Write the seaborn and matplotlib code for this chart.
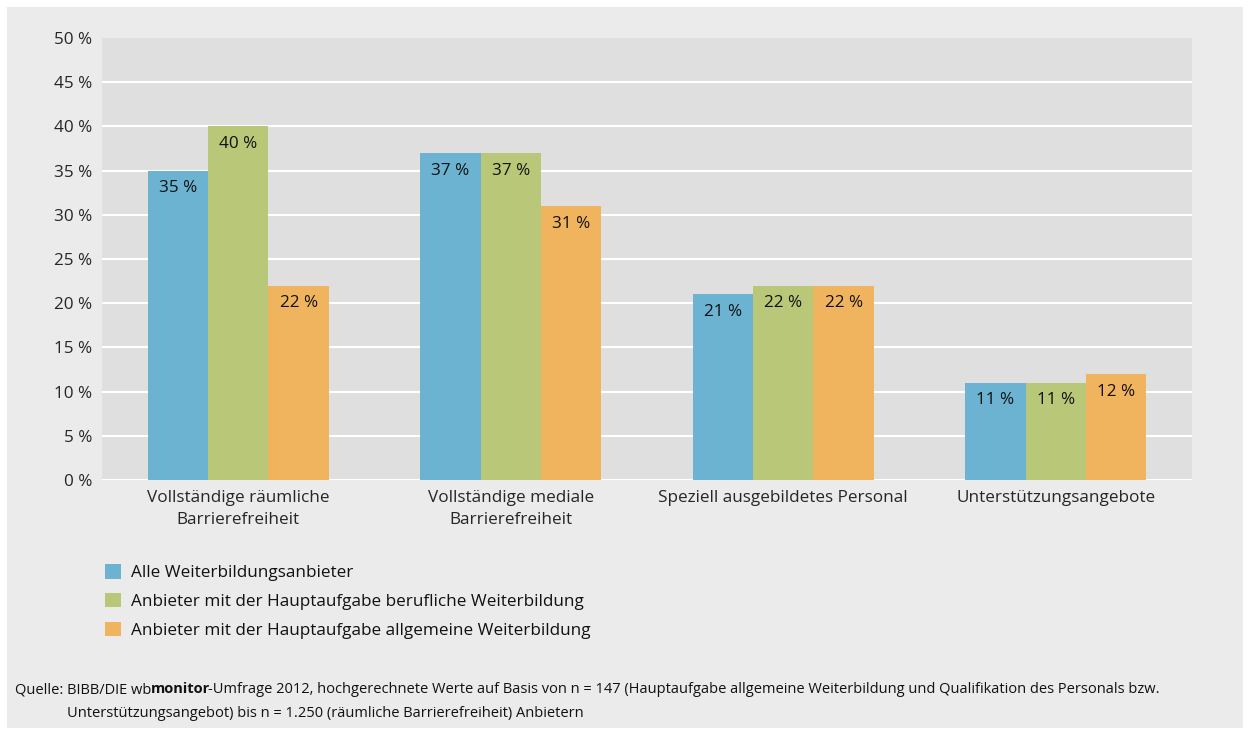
import pandas as pd
import matplotlib
matplotlib.use("Agg")
import matplotlib.pyplot as plt
import seaborn as sns
from matplotlib.patches import Rectangle

# Daten
kategorien = ["Vollständige räumliche\nBarrierefreiheit",
              "Vollständige mediale\nBarrierefreiheit",
              "Speziell ausgebildetes Personal",
              "Unterstützungsangebote"]
gruppen = ["Alle Weiterbildungsanbieter",
           "Anbieter mit der Hauptaufgabe berufliche Weiterbildung",
           "Anbieter mit der Hauptaufgabe allgemeine Weiterbildung"]
alle = [35, 37, 21, 11]
beruflich = [40, 37, 22, 11]
allgemein = [22, 31, 22, 12]
y_ticks = [0, 5, 10, 15, 20, 25, 30, 35, 40, 45, 50]
farben = ["#6bb3d0", "#b8c878", "#f0b45e"]

df = pd.DataFrame({
    "kategorie": kategorien * 3,
    "gruppe": [gruppen[0]] * 4 + [gruppen[1]] * 4 + [gruppen[2]] * 4,
    "wert": alle + beruflich + allgemein,
})

sns.set_theme(style="white")
plt.rcParams['font.family'] = ['Open Sans', 'DejaVu Sans']
plt.rcParams['text.color'] = '#111111'
fs = 12.3

fig = plt.figure(figsize=(12.5, 7.35), dpi=100, facecolor="white")
W, H = 1250, 735
# grauer Hintergrund
fig.patches.append(Rectangle((7 / W, 7 / H), 1236 / W, 721 / H, transform=fig.transFigure,
                             facecolor="#ebebeb", edgecolor="none", zorder=-5))

ax = fig.add_axes([102 / W, (H - 480) / H, 1090 / W, 442 / H])
ax.set_facecolor("#dfdfdf")

sns.barplot(data=df, x="kategorie", y="wert", hue="gruppe", palette=farben,
            width=0.665, saturation=1, linewidth=0, ax=ax, legend=True, zorder=3)

ax.set_ylim(0, 50)
ax.set_xlim(-0.5, 3.5)
ax.set_yticks(y_ticks)
ax.set_yticklabels([f"{t} %" for t in y_ticks], fontsize=fs)
ax.tick_params(axis="x", labelsize=fs, pad=7, length=0)
ax.tick_params(axis="y", pad=7, length=0)
for lbl in ax.get_xticklabels():
    lbl.set_linespacing(1.55)
ax.set_xlabel("")
ax.set_ylabel("")
for s in ax.spines.values():
    s.set_visible(False)
ax.yaxis.grid(True, color="white", linewidth=1.5, zorder=1)
ax.yaxis.get_gridlines()[-1].set_visible(False)
ax.set_axisbelow(True)

# Werte in die Balken
for cont in ax.containers:
    for bar in cont:
        h = bar.get_height()
        ax.annotate(f"{h:.0f} %", (bar.get_x() + bar.get_width() / 2, h),
                    xytext=(0, -7), textcoords="offset points",
                    ha="center", va="top", fontsize=fs, zorder=5)

# Legende
handles, labels = ax.get_legend_handles_labels()
ax.get_legend().remove()
fig.legend(handles, labels, loc="upper left", bbox_to_anchor=(98 / W, (H - 557) / H),
           frameon=False, fontsize=fs, handlelength=0.95, handleheight=0.95,
           handletextpad=0.6, labelspacing=0.68, borderaxespad=0)

# Quelle (fett gesetztes "monitor" mit kleiner Korrektur der Abstände)
fig.canvas.draw()
renderer = fig.canvas.get_renderer()
teile = [("Quelle: BIBB/DIE wb", "normal", 0), ("monitor", "bold", 0),
         ("-Umfrage 2012, hochgerechnete Werte auf Basis von n = 147 (Hauptaufgabe allgemeine "
          "Weiterbildung und Qualifikation des Personals bzw.", "normal", -2.5)]
x = 15
for txt, gewicht, korr in teile:
    x += korr
    t = fig.text(x / W, (H - 693) / H, txt, fontsize=10.5, fontweight=gewicht,
                 va="baseline", ha="left")
    x += t.get_window_extent(renderer).width
fig.text(67 / W, (H - 717) / H,
         "Unterstützungsangebot) bis n = 1.250 (räumliche Barrierefreiheit) Anbietern",
         fontsize=10.5, va="baseline", ha="left")

fig.savefig("out.png", dpi=100, facecolor="white")
